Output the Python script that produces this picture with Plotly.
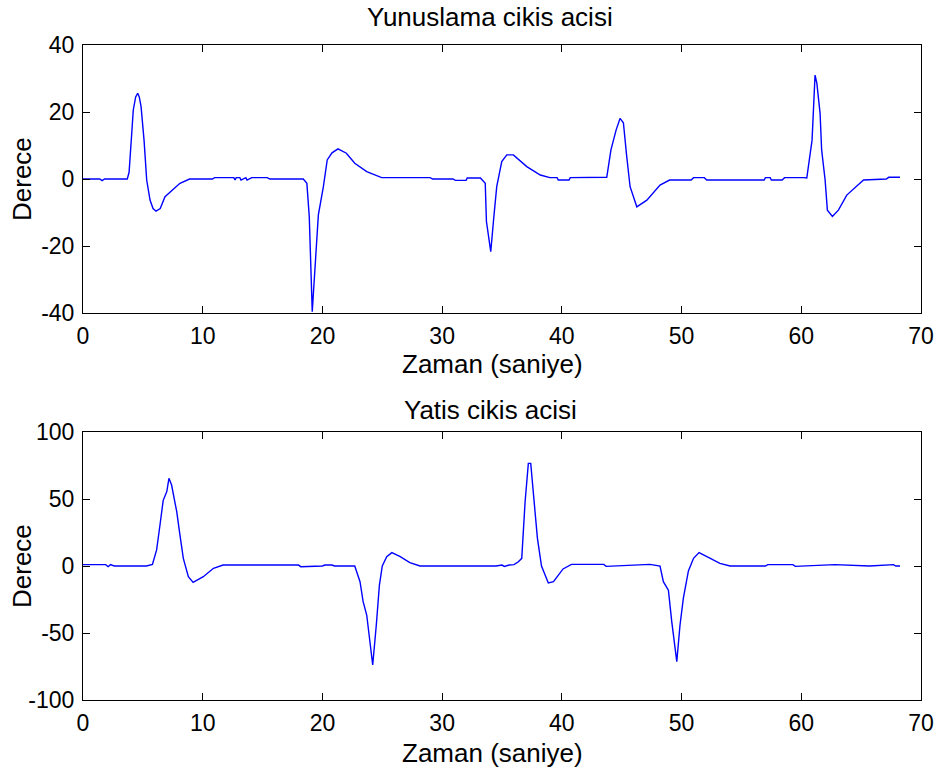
import plotly.graph_objects as go
from plotly.subplots import make_subplots

# Pitch output angle (Yunuslama cikis acisi)
pitch_t = [0, 1.4, 1.6, 1.8, 3.7, 3.85, 4.07, 4.2, 4.4, 4.57, 4.7, 4.85, 5.1, 5.32, 5.6, 5.85,
           6.1, 6.45, 6.85, 7.6, 8.1, 8.9, 10.8, 11.0, 12.6, 12.7, 12.8, 13.1, 13.2, 13.6, 13.7,
           14.1, 14.2, 15.4, 15.6, 18.4, 18.7, 18.9, 19.15, 19.44, 19.66, 20.08, 20.4, 20.8,
           21.3, 22.0, 22.7, 23.7, 24.95, 29.0, 29.2, 30.9, 31.1, 32.0, 32.1, 33.2, 33.6, 33.7,
           34.06, 34.3, 34.56, 34.84, 34.98, 35.4, 35.95, 37.07, 38.2, 39.0, 39.6, 39.7, 40.6,
           40.7, 43.4, 43.75, 44.1, 44.53, 44.86, 45.14, 45.42, 45.7, 46.26, 47.1, 48.2, 49.0,
           50.8, 51.0, 51.9, 52.1, 56.9, 57.0, 57.4, 57.5, 58.4, 58.6, 60.2, 60.46, 60.9, 61.15,
           61.3, 61.57, 61.7, 61.99, 62.18, 62.6, 63.1, 63.8, 65.2, 67.1, 67.3, 68.25]
pitch_deg = [0, 0, -0.5, 0, 0, 2, 13.6, 20.6, 24.5, 25.6, 24.5, 21.6, 11.6, -0.3, -6.3, -8.8,
             -9.6, -8.8, -5.3, -2.8, -1.3, 0, 0, 0.4, 0.4, -0.3, 0.4, 0.4, -0.3, 0.4, -0.3,
             0.4, 0.4, 0.4, 0, 0, -1.3, -11.2, -39.6, -21.2, -10.7, -2.3, 5.7, 7.8,
             9.0, 7.7, 4.7, 2.2, 0.4, 0.4, 0, 0, -0.4, -0.4, 0.3, 0.3, -1.3, -12.7,
             -21.7, -12.0, -2.3, 2.7, 5.2, 7.2, 7.2, 3.7, 1.2, 0.4, 0.4, -0.3, -0.3,
             0.4, 0.4, 0.5, 8.7, 14.6, 18.1, 16.8, 6.7, -2.3, -8.3, -6.3, -1.8, -0.3,
             -0.3, 0.4, 0.4, -0.3, -0.3, 0.4, 0.4, -0.3, -0.3, 0.4, 0.4, 0.3, 11.6, 31.0,
             28.6, 19.6, 8.7, -0.3, -9.3, -11.2, -9.3, -4.8, -0.3, 0, 0.5, 0.5]

# Roll output angle (Yatis cikis acisi)
roll_t = [0, 1.9, 2.1, 2.3, 2.6, 5.3, 5.8, 6.15, 6.43, 6.7, 7.0, 7.18, 7.4, 7.83, 8.1, 8.38,
          8.8, 9.2, 10.05, 10.9, 11.7, 18.0, 18.2, 20.0, 20.2, 20.8, 21.0, 22.6, 22.7, 23.14,
          23.4, 23.7, 24.2, 24.5, 24.76, 25.0, 25.37, 25.8, 26.5, 27.3, 28.15, 34.5, 35.0,
          35.2, 35.6, 36.0, 36.37, 36.65, 36.93, 37.2, 37.4, 37.76, 37.96, 38.3, 38.87, 39.3,
          40.1, 40.8, 43.5, 43.7, 47.37, 48.2, 48.48, 48.9, 49.18, 49.6, 49.87, 50.15, 50.57,
          51.0, 51.46, 52.4, 53.2, 54.05, 57.0, 57.2, 59.3, 59.5, 62.8, 65.7, 67.7, 67.9, 68.25]
roll_deg = [1.0, 1.0, -0.5, 1.0, 0, 0, 1.2, 12, 30.6, 49, 55.5, 65.4, 60.4, 40.5, 23, 5.7,
            -8, -12.2, -8, -1.7, 0.7, 0.7, -0.5, 0, 0.7, 0.7, 0, 0, 0, -11.7,
            -26.6, -36.6, -73.9, -44, -14.2, 0, 7, 10, 7, 2.5, 0, 0, 0.7,
            -0.3, 0.7, 1.0, 3.2, 5.7, 48, 76.6, 76.6, 40.5, 20.6, 0, -12.7, -11.7,
            -2.2, 1.2, 1.2, -0.3, 1.2, 0, -11.7, -18, -41.5, -71.4, -44, -24, -3.7,
            5.7, 10, 5.7, 2, 0, 0, 1.0, 1.0, -0.3, 1.0, 0, 1.0, 0, 0]

x_ticks = [0, 10, 20, 30, 40, 50, 60, 70]
pitch_ticks = [-40, -20, 0, 20, 40]
roll_ticks = [-100, -50, 0, 50, 100]

FONT = "Liberation Sans, Arial, Helvetica, sans-serif"

fig = make_subplots(rows=2, cols=1, vertical_spacing=0.0)
fig.add_trace(go.Scatter(x=pitch_t, y=pitch_deg, mode="lines",
                         line=dict(color="#0000ff", width=1.4), showlegend=False), row=1, col=1)
fig.add_trace(go.Scatter(x=roll_t, y=roll_deg, mode="lines",
                         line=dict(color="#0000ff", width=1.4), showlegend=False), row=2, col=1)

axis_common = dict(showgrid=False, zeroline=False, showline=True, linecolor="black", linewidth=1,
                   mirror="ticks", ticks="inside", ticklen=7, tickcolor="black", tickwidth=1,
                   tickfont=dict(family=FONT, size=23, color="black"))

fig.update_xaxes(range=[0, 70], tickvals=x_ticks, ticktext=[str(v) for v in x_ticks],
                 ticklabelstandoff=2, **axis_common)
fig.update_yaxes(ticklabelstandoff=3, **axis_common)
fig.update_yaxes(range=[-40, 40], tickvals=pitch_ticks, ticktext=[str(v) for v in pitch_ticks],
                 row=1, col=1)
fig.update_yaxes(range=[-100, 100], tickvals=roll_ticks, ticktext=[str(v) for v in roll_ticks],
                 row=2, col=1)

top_dom = [(700 - 313) / 655, 1.0]
bot_dom = [0.0, (700 - 432) / 655]
fig.update_layout(
    width=945, height=778,
    margin=dict(l=83, r=24, t=45, b=78),
    paper_bgcolor="white", plot_bgcolor="white",
    yaxis=dict(domain=top_dom), yaxis2=dict(domain=bot_dom),
    font=dict(family=FONT, color="black"),
)

def ann(text, x, y, size, angle=0):
    fig.add_annotation(text=text, x=x, y=y, xref="paper", yref="paper", showarrow=False,
                       xanchor="center", yanchor="middle", textangle=angle,
                       font=dict(family=FONT, size=size, color="black"))

px = lambda p: (p - 83) / 838
py = lambda p: (700 - p) / 655
ann("Yunuslama cikis acisi", px(490), py(17), 26)
ann("Zaman (saniye)", px(492), py(364), 26)
ann("Derece", px(22), py(179), 26, -90)
ann("Yatis cikis acisi", px(490), py(410), 26)
ann("Zaman (saniye)", px(492), py(753), 26)
ann("Derece", px(22), py(566), 26, -90)

fig.write_html("out.html")
